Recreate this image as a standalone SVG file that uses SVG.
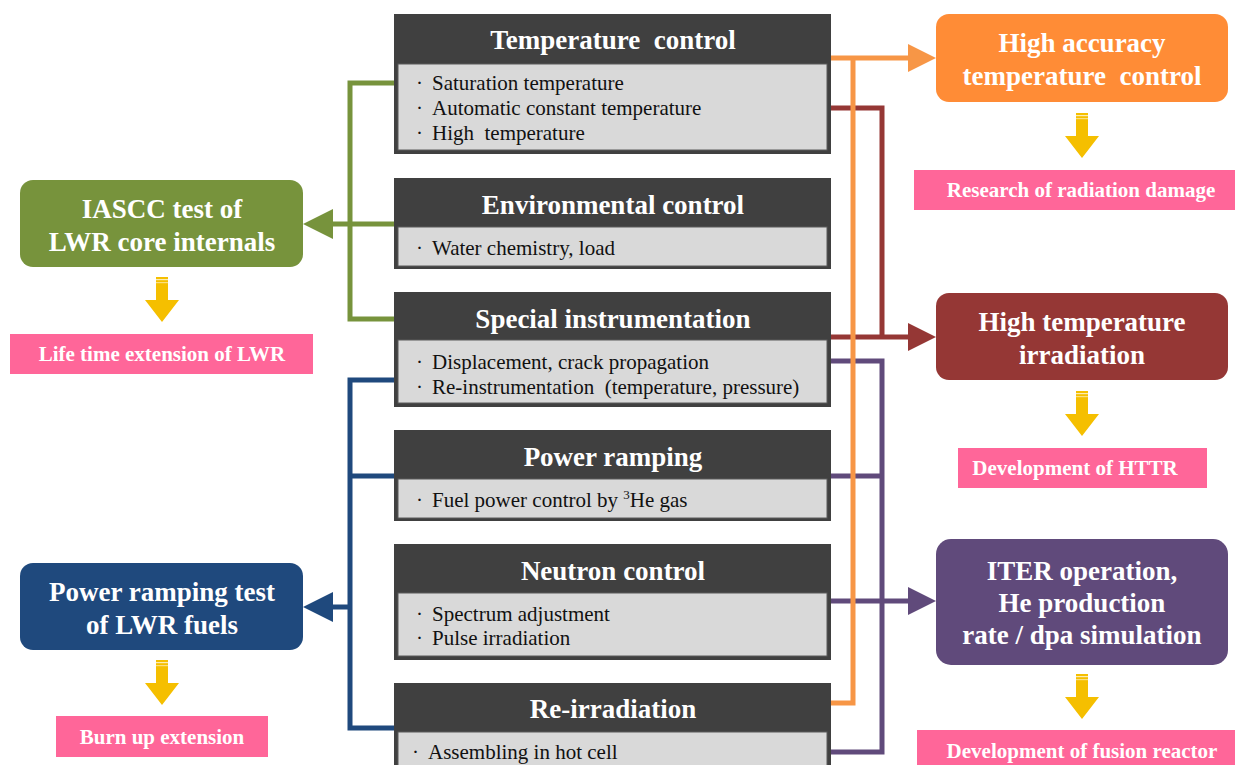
<svg xmlns="http://www.w3.org/2000/svg" width="1235" height="765" viewBox="0 0 1235 765">
<style>
.hd{fill:#404040}
.bd{fill:#D9D9D9;stroke:#5a5a5a;stroke-width:1}
.ht{font-family:"Liberation Serif","Times New Roman",serif;font-weight:bold;font-size:27px;fill:#fff;text-anchor:middle}
.bt{font-family:"Liberation Serif","Times New Roman",serif;font-size:21px;fill:#111}
.nt{font-family:"Liberation Serif","Times New Roman",serif;font-weight:bold;font-size:27px;fill:#fff;text-anchor:middle}
.pt{font-family:"Liberation Serif","Times New Roman",serif;font-weight:bold;font-size:21px;fill:#fff;text-anchor:middle}
.pk{fill:#FF6699}
.ln{fill:none;stroke-width:5;stroke-linejoin:miter}
.ya{fill:#F5BF00}
</style>
<defs>
<g id="yarrow">
<path d="M-6,0 H6 V23 H17 L0,45 L-17,23 H-6 Z"/>
<rect x="-6" y="2" width="12" height="1.2" fill="#fff" opacity="0.7"/>
<rect x="-6" y="5" width="12" height="1.2" fill="#fff" opacity="0.5"/>
</g>
</defs>

<g id="connectors">
<path class="ln" stroke="#77933C" d="M394,83 H350 V319 H394"/>
<path class="ln" stroke="#77933C" d="M394,224 H332"/>
<polygon fill="#77933C" points="333,209 303,224 333,239"/>
<path class="ln" stroke="#1F497D" d="M394,380 H350 V728 H394"/>
<path class="ln" stroke="#1F497D" d="M394,476 H350"/>
<path class="ln" stroke="#1F497D" d="M350,607 H332"/>
<polygon fill="#1F497D" points="333,592 303,607 333,622"/>
<path class="ln" stroke="#953735" d="M831,108 H882 V337"/>
<path class="ln" stroke="#953735" d="M831,337 H909"/>
<polygon fill="#953735" points="908,323 936,337 908,351"/>
<path class="ln" stroke="#604A7B" d="M831,361 H882 V752 H831"/>
<path class="ln" stroke="#604A7B" d="M831,476 H882"/>
<path class="ln" stroke="#604A7B" d="M831,601 H909"/>
<polygon fill="#604A7B" points="908,587 936,601 908,615"/>
<path class="ln" stroke="#F79646" d="M831,703 H853 V58"/>
<path class="ln" stroke="#F79646" d="M831,58 H909"/>
<polygon fill="#F79646" points="908,44 936,58 908,72"/>
</g>

<g id="temperature-control">
<rect class="hd" x="394" y="14" width="437" height="140"/>
<rect class="bd" x="398" y="64" width="429" height="86"/>
<text class="ht" x="613" y="49">Temperature&#160; control</text>
<text class="bt" x="416" y="90">·</text><text class="bt" x="432" y="90">Saturation temperature</text>
<text class="bt" x="416" y="115">·</text><text class="bt" x="432" y="115">Automatic constant temperature</text>
<text class="bt" x="416" y="140">·</text><text class="bt" x="432" y="140">High&#160; temperature</text>
</g>

<g id="environmental-control">
<rect class="hd" x="394" y="178" width="437" height="91"/>
<rect class="bd" x="398" y="227" width="429" height="39"/>
<text class="ht" x="613" y="214">Environmental control</text>
<text class="bt" x="416" y="255">·</text><text class="bt" x="432" y="255">Water chemistry, load</text>
</g>

<g id="special-instrumentation">
<rect class="hd" x="394" y="292" width="437" height="115"/>
<rect class="bd" x="398" y="340" width="429" height="63"/>
<text class="ht" x="613" y="328">Special instrumentation</text>
<text class="bt" x="416" y="369">·</text><text class="bt" x="432" y="369">Displacement, crack propagation</text>
<text class="bt" x="416" y="394">·</text><text class="bt" x="432" y="394">Re-instrumentation&#160; (temperature, pressure)</text>
</g>

<g id="power-ramping">
<rect class="hd" x="394" y="430" width="437" height="91"/>
<rect class="bd" x="398" y="479" width="429" height="39"/>
<text class="ht" x="613" y="466">Power ramping</text>
<text class="bt" x="416" y="507">·</text><text class="bt" x="432" y="507">Fuel power control by <tspan font-size="13" dy="-8">3</tspan><tspan dy="8">He gas</tspan></text>
</g>

<g id="neutron-control">
<rect class="hd" x="394" y="544" width="437" height="116"/>
<rect class="bd" x="398" y="593" width="429" height="63"/>
<text class="ht" x="613" y="580">Neutron control</text>
<text class="bt" x="416" y="621">·</text><text class="bt" x="432" y="621">Spectrum adjustment</text>
<text class="bt" x="416" y="645">·</text><text class="bt" x="432" y="645">Pulse irradiation</text>
</g>

<g id="re-irradiation">
<rect class="hd" x="394" y="683" width="437" height="90"/>
<rect class="bd" x="398" y="732" width="429" height="40"/>
<text class="ht" x="613" y="718">Re-irradiation</text>
<text class="bt" x="412" y="759">·</text><text class="bt" x="428" y="759">Assembling in hot cell</text>
</g>

<g id="iascc-test">
<rect x="20" y="180" width="283" height="87" rx="13" fill="#77933C"/>
<text class="nt" x="162" y="218">IASCC test of</text>
<text class="nt" x="162" y="251">LWR core internals</text>
</g>
<g id="life-time-extension">
<use href="#yarrow" class="ya" transform="translate(162,277)"/>
<rect class="pk" x="10" y="334" width="303" height="40"/>
<text class="pt" x="162" y="361">Life time extension of LWR</text>
</g>

<g id="power-ramping-test">
<rect x="20" y="563" width="283" height="87" rx="13" fill="#1F497D"/>
<text class="nt" x="162" y="601">Power ramping test</text>
<text class="nt" x="162" y="634">of LWR fuels</text>
</g>
<g id="burn-up-extension">
<use href="#yarrow" class="ya" transform="translate(162,660)"/>
<rect class="pk" x="56" y="716" width="212" height="41"/>
<text class="pt" x="162" y="744">Burn up extension</text>
</g>

<g id="high-accuracy">
<rect x="936" y="14" width="292" height="88" rx="13" fill="#FF8C36"/>
<text class="nt" x="1082" y="52">High accuracy</text>
<text class="nt" x="1082" y="85">temperature&#160; control</text>
</g>
<g id="research-radiation-damage">
<use href="#yarrow" class="ya" transform="translate(1082,113)"/>
<rect class="pk" x="914" y="170" width="321" height="40"/>
<text class="pt" x="1081" y="197">Research of radiation damage</text>
</g>

<g id="high-temperature-irradiation">
<rect x="936" y="293" width="292" height="87" rx="13" fill="#953735"/>
<text class="nt" x="1082" y="331">High temperature</text>
<text class="nt" x="1082" y="364">irradiation</text>
</g>
<g id="development-httr">
<use href="#yarrow" class="ya" transform="translate(1082,391)"/>
<rect class="pk" x="958" y="448" width="249" height="40"/>
<text class="pt" x="1075" y="475">Development of HTTR</text>
</g>

<g id="iter-operation">
<rect x="936" y="539" width="292" height="126" rx="15" fill="#604A7B"/>
<text class="nt" x="1082" y="580">ITER operation,</text>
<text class="nt" x="1082" y="612">He production</text>
<text class="nt" x="1082" y="644">rate / dpa simulation</text>
</g>
<g id="development-fusion">
<use href="#yarrow" class="ya" transform="translate(1082,674)"/>
<rect class="pk" x="917" y="730" width="318" height="40"/>
<text class="pt" x="1082" y="758">Development of fusion reactor</text>
</g>
</svg>
